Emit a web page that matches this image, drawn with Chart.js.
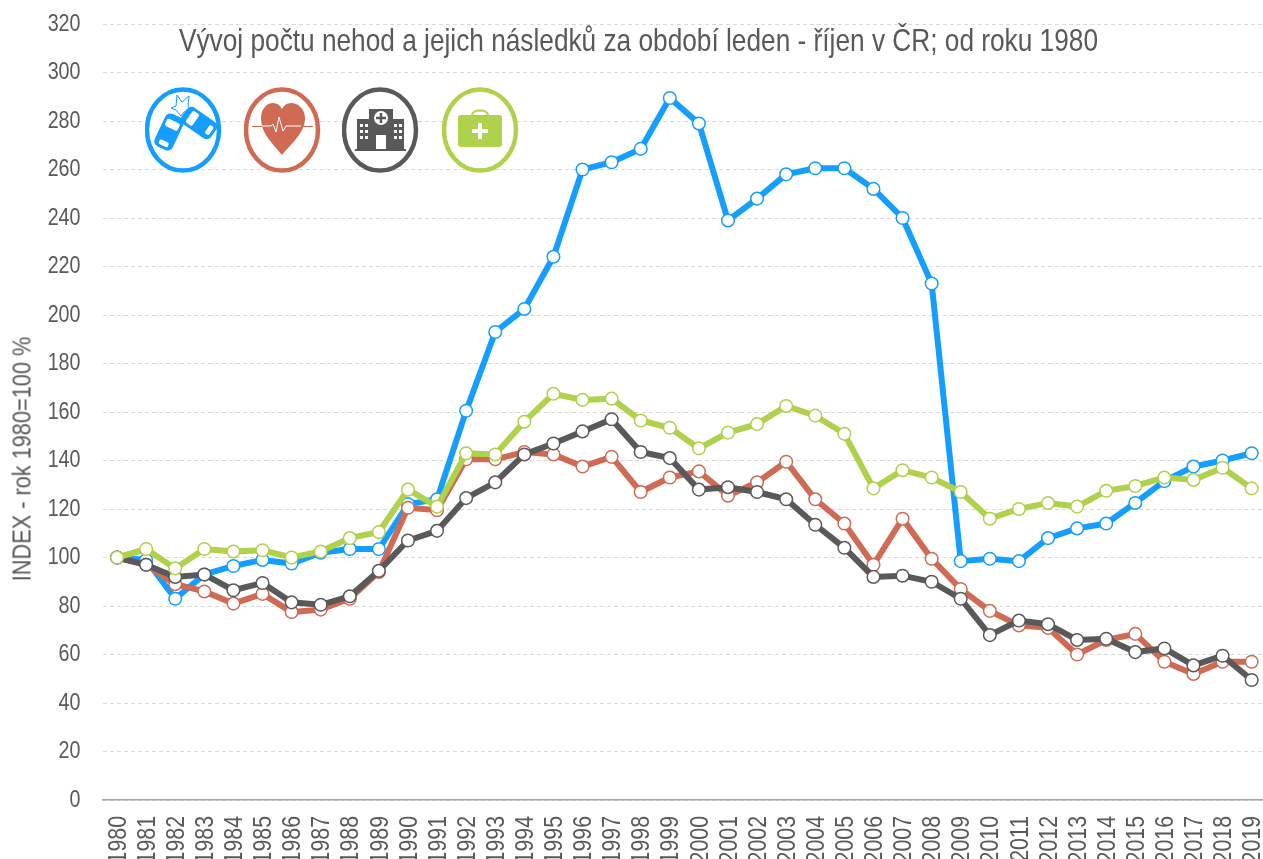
<!DOCTYPE html>
<html lang="cs"><head><meta charset="utf-8">
<script src="https://cdn.jsdelivr.net/npm/chart.js@4"></script>
<style>
html,body{margin:0;padding:0;background:#fff;width:1263px;height:859px;overflow:hidden}
#wrap{position:relative;width:1263px;height:859px;overflow:hidden}
canvas{position:absolute;left:0;top:0}
#title{position:absolute;left:179px;top:22px;font:32px "Liberation Sans",sans-serif;color:#595959;white-space:nowrap;transform:scaleX(.82);transform-origin:left top}
#ylab{position:absolute;left:22px;top:458.5px;font:26.5px "Liberation Sans",sans-serif;color:#595959;white-space:nowrap;transform:translate(-50%,-50%) rotate(-90deg) scaleX(.82)}
.ic{position:absolute;top:87px;width:78px;height:86px}
</style></head><body>
<div id="wrap">
<canvas id="c" width="1274" height="859"></canvas>
<div id="title">Vývoj počtu nehod a jejich následků za období leden - říjen v ČR; od roku 1980</div>
<div id="ylab">INDEX - rok 1980=100 %</div>
<svg class="ic" style="left:145px" viewBox="0 0 78 86"><ellipse cx="38" cy="43" rx="36" ry="40.5" fill="#fff" stroke="#149eff" stroke-width="4.5"/>
<g fill="#149eff"><g transform="rotate(25 24 45)"><rect x="14" y="27" width="20" height="36" rx="6"/><rect x="17" y="33" width="14" height="8" rx="2" fill="#fff"/><rect x="19" y="55" width="10" height="5" rx="2" fill="#fff"/></g>
<g transform="rotate(-55 54 36)"><rect x="44" y="18" width="20" height="36" rx="6"/><rect x="47" y="24" width="14" height="8" rx="2" fill="#fff"/><rect x="49" y="46" width="10" height="5" rx="2" fill="#fff"/></g></g>
<path d="M26 21l5-2 1-11 5 7 7-6-1 10 2 3-6 3-3 4-5-6z" fill="none" stroke="#149eff" stroke-width="1"/></svg>
<svg class="ic" style="left:244px" viewBox="0 0 78 86"><ellipse cx="38" cy="43" rx="36" ry="40.5" fill="#fff" stroke="#d06a54" stroke-width="4.5"/>
<path d="M38 68C24 52 17 44 17 31c0-9 6-15 12-15 4 0 7 2 9 6 2-4 5-6 9-6 7 0 14 6 14 15 0 13-9 21-23 37z" fill="#d06a54"/>
<path d="M17 39h10l2-2 3 8 3-15 4 14 3-5 3 0h12" fill="none" stroke="#fff" stroke-width="1"/><path d="M8 39.500h10M59 39.500h10" stroke="#d06a54" stroke-width="1"/></svg>
<svg class="ic" style="left:342px" viewBox="0 0 78 86"><ellipse cx="38" cy="43" rx="36" ry="40.5" fill="#fff" stroke="#595959" stroke-width="4.500"/>
<g fill="#595959"><rect x="15" y="32" width="13" height="30"/><rect x="49" y="32" width="13" height="30"/><rect x="27" y="22" width="24" height="40"/><rect x="13" y="62" width="51" height="2"/></g>
<circle cx="39" cy="31" r="7" fill="#fff"/><path d="M39 26v10M34 31h10" stroke="#595959" stroke-width="2.500"/><rect x="34" y="48" width="10" height="14" fill="#fff"/>
<g fill="#fff"><rect x="18" y="37" width="3" height="3"/><rect x="23" y="37" width="3" height="3"/><rect x="18" y="43" width="3" height="3"/><rect x="23" y="43" width="3" height="3"/><rect x="18" y="49" width="3" height="3"/><rect x="23" y="49" width="3" height="3"/><rect x="52" y="37" width="3" height="3"/><rect x="57" y="37" width="3" height="3"/><rect x="52" y="43" width="3" height="3"/><rect x="57" y="43" width="3" height="3"/><rect x="52" y="49" width="3" height="3"/><rect x="57" y="49" width="3" height="3"/></g></svg>
<svg class="ic" style="left:442px" viewBox="0 0 78 86"><ellipse cx="38" cy="43" rx="36" ry="40.5" fill="#fff" stroke="#afd14b" stroke-width="4.500"/>
<rect x="16" y="28" width="44" height="32" rx="3" fill="#afd14b"/><path d="M30 28c0-6 16-6 16 0" fill="none" stroke="#afd14b" stroke-width="2"/><path d="M38 36v16M30 44h16" stroke="#fff" stroke-width="4"/></svg>
</div>
<script>
const years=["1980","1981","1982","1983","1984","1985","1986","1987","1988","1989","1990","1991","1992","1993","1994","1995","1996","1997","1998","1999","2000","2001","2002","2003","2004","2005","2006","2007","2008","2009","2010","2011","2012","2013","2014","2015","2016","2017","2018","2019"];
const nehody=[100,99,83,93,96.5,99,97.5,102,103.5,103.5,122,124,160.5,193,202.5,224,260,263,268.5,289.5,279,239,248,258,260.5,260.5,252,240,213,98.5,99.5,98.5,108,112,114,122.5,131.5,137.5,140,143];
const usmrceni=[100,97,89,86,81,85,77.5,78.5,83,94,120.5,119.5,140.5,140.5,143.5,142.5,137.5,141.5,127,133,135.5,125.5,131,139.5,124,114,97,116,99.5,87,78,72,71,60,66,68.5,57,52,57,57];
const tezce=[100,97,92,93,86.5,89.5,81.5,80.5,84,94.5,107,111,124.5,131,142.5,147,152,157,143.5,141,128,129,127,124,113.5,104,92,92.5,90,83,68,74,72.5,66,66.5,61,62.5,55.5,59.5,49.5];
const lehce=[100,103.5,95.5,103.5,102.5,103,100,102.5,108,110.5,128,121,143,142.5,156,167.5,165,165.5,156.5,153.5,145,151.5,155,162.5,158.5,151,128.5,136,133,127,116,120,122.5,121,127.5,129.5,133,132,137,128.5];
const seriesNames=["Nehody","Usmrcení","Těžce zranění","Lehce zranění"];
const colors=["#149eff","#d06a54","#595959","#afd14b"];
const FONT='"Liberation Sans",sans-serif';
const canvas=document.getElementById("c");
const ctx=canvas.getContext("2d");
// narrow the axis text: no condensed face is installed
const drawText=ctx.fillText.bind(ctx);
ctx.fillText=(t,x,y)=>{ctx.save();ctx.translate(x,y);ctx.scale(.82,1);drawText(t,0,0);ctx.restore();};
const ds=(i,d)=>({label:seriesNames[i],data:d,borderColor:colors[i],borderWidth:6,pointRadius:6.3,pointHoverRadius:6.3,pointBackgroundColor:"#fff",pointBorderColor:colors[i],pointBorderWidth:1.5,tension:0,fill:false,order:4-i,clip:false});
new Chart(canvas,{type:"line",
data:{labels:years,datasets:[ds(0,nehody),ds(1,usmrceni),ds(2,tezce),ds(3,lehce)]},
options:{responsive:false,animation:false,
layout:{padding:{top:24,right:0.5,bottom:0,left:0}},
plugins:{legend:{display:false},tooltip:{enabled:false},title:{display:false}},
scales:{
x:{offset:true,grid:{display:false},border:{display:true,color:"#a6a6a6",width:1.5},
ticks:{color:"#595959",font:{family:FONT,size:26},minRotation:90,maxRotation:90,autoSkip:false,padding:8,labelOffset:1.5},
afterFit(s){s.height=59;s.paddingLeft=0;s.paddingRight=0;s.paddingTop=0;s.paddingBottom=0}},
y:{min:0,max:320,grid:{color:"#d9d9d9",lineWidth:1,drawTicks:false},border:{display:false,dash:[4,3]},
ticks:{stepSize:20,color:"#595959",font:{family:FONT,size:24},padding:22},
afterFit(s){s.width=102.5;s.paddingTop=0;s.paddingBottom=0;s.paddingLeft=0;s.paddingRight=0}}
}}});
</script>
</body></html>
